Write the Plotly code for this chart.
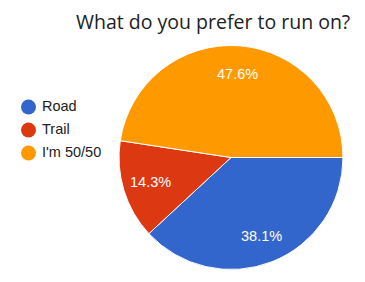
import math
import plotly.graph_objects as go

labels = ["Road", "Trail", "I'm 50/50"]
values = [38.1, 14.3, 47.6]
colors = ["#3366cc", "#dc3912", "#ff9900"]
title = "What do you prefer to run on?"

W, H = 365, 282
cx_px, cy_px, R = 231, 157.5, 112
rotation = 90
label_frac = 0.75

fig = go.Figure()
fig.add_trace(go.Pie(
    labels=labels, values=values, sort=False, direction="clockwise", rotation=rotation,
    marker=dict(colors=colors, line=dict(color="white", width=1)),
    textinfo="none", showlegend=False, hoverinfo="label+percent",
    domain=dict(x=[(cx_px - R) / W, (cx_px + R) / W],
                y=[(H - cy_px - R) / H, (H - cy_px + R) / H]),
))

# percentage labels placed along each slice's mid-angle
annotations = []
total = sum(values)
start = rotation
for v in values:
    sweep = 360 * v / total
    mid = math.radians(start + sweep / 2)
    x = cx_px + label_frac * R * math.sin(mid)
    y = cy_px - label_frac * R * math.cos(mid)
    annotations.append(dict(text=f"{100 * v / total:.1f}%", x=x / W, y=1 - y / H,
                            xref="paper", yref="paper", xanchor="center", yanchor="middle",
                            showarrow=False,
                            font=dict(family="Liberation Sans", size=14.5, color="white")))
    start += sweep

annotations.append(dict(text=title, x=212.5 / W, y=1 - 21.5 / H, xref="paper", yref="paper",
                        xanchor="center", yanchor="middle", showarrow=False,
                        font=dict(family="Open Sans", size=19.5, color="#202124")))

# custom legend: circle markers and labels on a hidden pixel-scaled axis
leg_x, leg_y0, leg_dy = 28.5, 107, 23
ys = [leg_y0 + i * leg_dy for i in range(len(labels))]
fig.add_trace(go.Scatter(
    x=[leg_x] * len(labels), y=ys, mode="markers", showlegend=False, hoverinfo="skip",
    marker=dict(symbol="circle", size=15, color=colors, line=dict(width=0)),
))
fig.add_trace(go.Scatter(
    x=[leg_x + 13.5] * len(labels), y=ys, mode="text", text=labels, showlegend=False,
    hoverinfo="skip", textposition="middle right",
    textfont=dict(family="Liberation Sans", size=14.5, color="#222222"),
    cliponaxis=False,
))

fig.update_layout(
    width=W, height=H, margin=dict(l=0, r=0, t=0, b=0),
    paper_bgcolor="white", plot_bgcolor="rgba(0,0,0,0)",
    xaxis=dict(visible=False, range=[0, 115], domain=[0, 115 / W], fixedrange=True),
    yaxis=dict(visible=False, range=[H, 0], domain=[0, 1], fixedrange=True),
    annotations=annotations,
    showlegend=False,
)
fig.write_html("out.html")
